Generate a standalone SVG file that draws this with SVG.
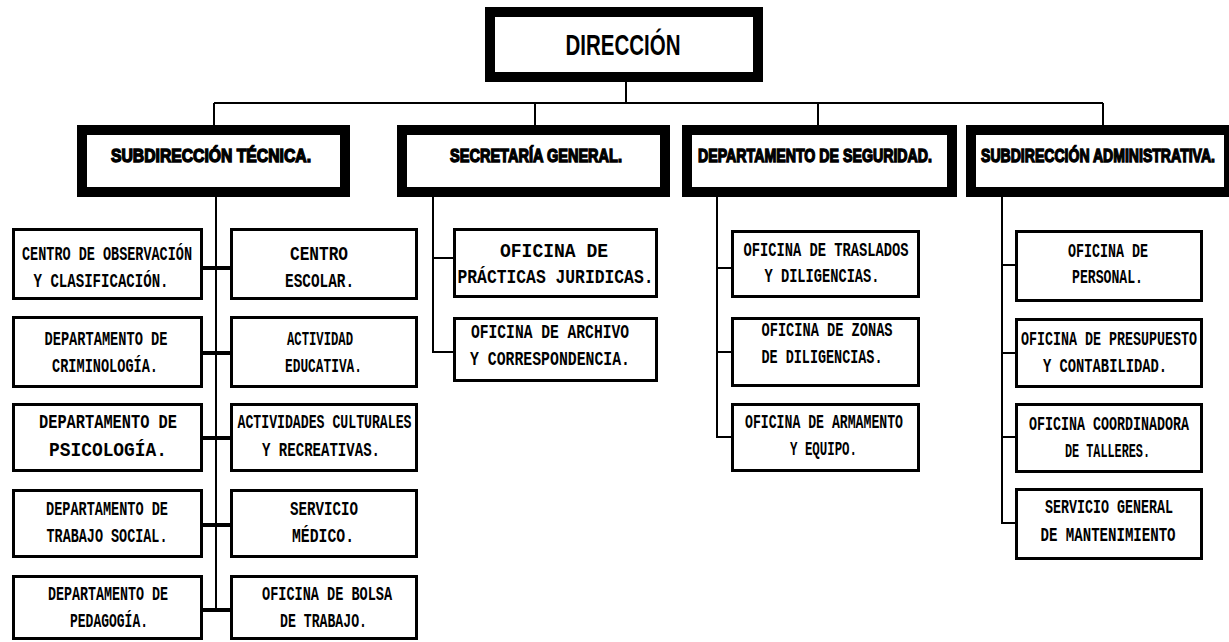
<svg xmlns="http://www.w3.org/2000/svg" width="1229" height="642" viewBox="0 0 1229 642">
<style>
.bg{fill:#fff}
.hbox{fill:#fff;stroke:#000;stroke-width:10}
.box{fill:#fff;stroke:#000;stroke-width:3}
.ln{fill:none;stroke:#000;stroke-width:2}
.br{fill:none;stroke:#000;stroke-width:4}
.t{font-family:"Liberation Mono","DejaVu Sans Mono",monospace;font-size:13.5px;font-weight:bold;text-anchor:middle;fill:#000}
.h{font-family:"Liberation Sans",Arial,sans-serif;font-size:12px;font-weight:bold;text-anchor:middle;fill:#000;stroke:#000;stroke-width:0.9}
.d{font-family:"Liberation Sans",Arial,sans-serif;font-size:19px;font-weight:bold;text-anchor:middle;fill:#000}
</style>
<rect class="bg" x="0" y="0" width="1229" height="642"/>
<g id="connectors">
<path class="ln" d="M626 82V103M214 103H1103M214 103V125M535 103V125M818 103V125M1103 103V125"/>
<path class="ln" d="M216 197V612M433 197V353M717 197V438M1002 197V524"/>
<path class="br" d="M203 268H230M203 353H230M203 438H230M203 525H230M203 610H230"/>
<path class="ln" d="M432 258H453M432 352H453M716 268H731M716 352H731M716 437H731M1001 265H1015M1001 353H1015M1001 437H1015M1001 523H1015"/>
</g>
<g id="direccion">
<rect class="hbox" x="490" y="12" width="268" height="65"/>
<text class="d" transform="translate(623 55) scale(1 1.55)" textLength="115" lengthAdjust="spacingAndGlyphs">DIRECCIÓN</text>
</g>
<g id="subdireccion-tecnica">
<rect class="hbox" x="82" y="130" width="263" height="62"/>
<text class="h" transform="translate(211 162) scale(1 1.55)" textLength="200" lengthAdjust="spacingAndGlyphs">SUBDIRECCIÓN  TÉCNICA.</text>
</g>
<g id="secretaria-general">
<rect class="hbox" x="402" y="130" width="263" height="62"/>
<text class="h" transform="translate(536 162) scale(1 1.55)" textLength="172" lengthAdjust="spacingAndGlyphs">SECRETARÍA GENERAL.</text>
</g>
<g id="departamento-seguridad">
<rect class="hbox" x="687" y="130" width="265" height="62"/>
<text class="h" transform="translate(815 162) scale(1 1.55)" textLength="234" lengthAdjust="spacingAndGlyphs">DEPARTAMENTO DE SEGURIDAD.</text>
</g>
<g id="subdireccion-administrativa">
<rect class="hbox" x="971" y="130" width="258" height="62"/>
<text class="h" transform="translate(1098 162) scale(1 1.55)" textLength="234" lengthAdjust="spacingAndGlyphs">SUBDIRECCIÓN ADMINISTRATIVA.</text>
</g>
<g id="centro-observacion">
<rect class="box" x="13.5" y="229.5" width="188" height="69"/>
<text class="t" transform="translate(107 260) scale(1 1.5)" textLength="170" lengthAdjust="spacingAndGlyphs">CENTRO DE OBSERVACIÓN</text>
<text class="t" transform="translate(101 287) scale(1 1.5)" textLength="135" lengthAdjust="spacingAndGlyphs">Y CLASIFICACIÓN.</text>
</g>
<g id="criminologia">
<rect class="box" x="13.5" y="317.5" width="188" height="69"/>
<text class="t" transform="translate(106 345) scale(1 1.5)" textLength="123" lengthAdjust="spacingAndGlyphs">DEPARTAMENTO DE</text>
<text class="t" transform="translate(105 372) scale(1 1.5)" textLength="106" lengthAdjust="spacingAndGlyphs">CRIMINOLOGÍA.</text>
</g>
<g id="psicologia">
<rect class="box" x="13.5" y="404.5" width="188" height="66"/>
<text class="t" transform="translate(108 428) scale(1 1.5)" textLength="138" lengthAdjust="spacingAndGlyphs">DEPARTAMENTO DE</text>
<text class="t" transform="translate(108 456) scale(1 1.5)" textLength="118" lengthAdjust="spacingAndGlyphs">PSICOLOGÍA.</text>
</g>
<g id="trabajo-social">
<rect class="box" x="13.5" y="490.5" width="188" height="66"/>
<text class="t" transform="translate(107 515) scale(1 1.5)" textLength="122" lengthAdjust="spacingAndGlyphs">DEPARTAMENTO DE</text>
<text class="t" transform="translate(107 542) scale(1 1.5)" textLength="121" lengthAdjust="spacingAndGlyphs">TRABAJO SOCIAL.</text>
</g>
<g id="pedagogia">
<rect class="box" x="13.5" y="576.5" width="188" height="62"/>
<text class="t" transform="translate(108 600) scale(1 1.5)" textLength="120" lengthAdjust="spacingAndGlyphs">DEPARTAMENTO DE</text>
<text class="t" transform="translate(109 627) scale(1 1.5)" textLength="78" lengthAdjust="spacingAndGlyphs">PEDAGOGÍA.</text>
</g>
<g id="centro-escolar">
<rect class="box" x="231.5" y="229.5" width="185" height="69"/>
<text class="t" transform="translate(319 260) scale(1 1.5)" textLength="58" lengthAdjust="spacingAndGlyphs">CENTRO</text>
<text class="t" transform="translate(319.5 287) scale(1 1.5)" textLength="69" lengthAdjust="spacingAndGlyphs">ESCOLAR.</text>
</g>
<g id="actividad-educativa">
<rect class="box" x="231.5" y="317.5" width="185" height="69"/>
<text class="t" transform="translate(320 345) scale(1 1.5)" textLength="66" lengthAdjust="spacingAndGlyphs">ACTIVIDAD</text>
<text class="t" transform="translate(323.5 372) scale(1 1.5)" textLength="77" lengthAdjust="spacingAndGlyphs">EDUCATIVA.</text>
</g>
<g id="actividades-culturales">
<rect class="box" x="231.5" y="404.5" width="185" height="66"/>
<text class="t" transform="translate(324.5 428) scale(1 1.5)" textLength="174" lengthAdjust="spacingAndGlyphs">ACTIVIDADES CULTURALES</text>
<text class="t" transform="translate(321 456) scale(1 1.5)" textLength="118" lengthAdjust="spacingAndGlyphs">Y RECREATIVAS.</text>
</g>
<g id="servicio-medico">
<rect class="box" x="231.5" y="490.5" width="185" height="66"/>
<text class="t" transform="translate(324 515) scale(1 1.5)" textLength="68" lengthAdjust="spacingAndGlyphs">SERVICIO</text>
<text class="t" transform="translate(323 542) scale(1 1.5)" textLength="62" lengthAdjust="spacingAndGlyphs">MÉDICO.</text>
</g>
<g id="bolsa-trabajo">
<rect class="box" x="231.5" y="576.5" width="185" height="62"/>
<text class="t" transform="translate(327 600) scale(1 1.5)" textLength="130" lengthAdjust="spacingAndGlyphs">OFICINA DE BOLSA</text>
<text class="t" transform="translate(323.5 627) scale(1 1.5)" textLength="87" lengthAdjust="spacingAndGlyphs">DE TRABAJO.</text>
</g>
<g id="practicas-juridicas">
<rect class="box" x="454.5" y="229.5" width="202" height="67"/>
<text class="t" transform="translate(554 257) scale(1 1.5)" textLength="108" lengthAdjust="spacingAndGlyphs">OFICINA DE</text>
<text class="t" transform="translate(555.5 283) scale(1 1.5)" textLength="196" lengthAdjust="spacingAndGlyphs">PRÁCTICAS JURIDICAS.</text>
</g>
<g id="archivo">
<rect class="box" x="454.5" y="318.5" width="202" height="62"/>
<text class="t" transform="translate(550 338) scale(1 1.5)" textLength="158" lengthAdjust="spacingAndGlyphs">OFICINA DE ARCHIVO</text>
<text class="t" transform="translate(550 365) scale(1 1.5)" textLength="160" lengthAdjust="spacingAndGlyphs">Y CORRESPONDENCIA.</text>
</g>
<g id="traslados">
<rect class="box" x="732.5" y="231.5" width="186" height="65"/>
<text class="t" transform="translate(826 256) scale(1 1.5)" textLength="165" lengthAdjust="spacingAndGlyphs">OFICINA DE TRASLADOS</text>
<text class="t" transform="translate(822 282) scale(1 1.5)" textLength="115" lengthAdjust="spacingAndGlyphs">Y DILIGENCIAS.</text>
</g>
<g id="zonas">
<rect class="box" x="732.5" y="318.5" width="186" height="67"/>
<text class="t" transform="translate(827 336) scale(1 1.5)" textLength="131" lengthAdjust="spacingAndGlyphs">OFICINA DE ZONAS</text>
<text class="t" transform="translate(822 363) scale(1 1.5)" textLength="121" lengthAdjust="spacingAndGlyphs">DE DILIGENCIAS.</text>
</g>
<g id="armamento">
<rect class="box" x="732.5" y="404.5" width="186" height="66"/>
<text class="t" transform="translate(824 428) scale(1 1.5)" textLength="158" lengthAdjust="spacingAndGlyphs">OFICINA DE ARMAMENTO</text>
<text class="t" transform="translate(823.5 455) scale(1 1.5)" textLength="67" lengthAdjust="spacingAndGlyphs">Y EQUIPO.</text>
</g>
<g id="personal">
<rect class="box" x="1016.5" y="231.5" width="185" height="69"/>
<text class="t" transform="translate(1108 257) scale(1 1.5)" textLength="80" lengthAdjust="spacingAndGlyphs">OFICINA DE</text>
<text class="t" transform="translate(1107.5 283) scale(1 1.5)" textLength="71" lengthAdjust="spacingAndGlyphs">PERSONAL.</text>
</g>
<g id="presupuesto">
<rect class="box" x="1016.5" y="319.5" width="185" height="67"/>
<text class="t" transform="translate(1109 345) scale(1 1.5)" textLength="176" lengthAdjust="spacingAndGlyphs">OFICINA DE PRESUPUESTO</text>
<text class="t" transform="translate(1105 372) scale(1 1.5)" textLength="124" lengthAdjust="spacingAndGlyphs">Y CONTABILIDAD.</text>
</g>
<g id="talleres">
<rect class="box" x="1016.5" y="404.5" width="185" height="67"/>
<text class="t" transform="translate(1109 430) scale(1 1.5)" textLength="160" lengthAdjust="spacingAndGlyphs">OFICINA COORDINADORA</text>
<text class="t" transform="translate(1107.5 457) scale(1 1.5)" textLength="85" lengthAdjust="spacingAndGlyphs">DE TALLERES.</text>
</g>
<g id="mantenimiento">
<rect class="box" x="1016.5" y="489.5" width="185" height="69"/>
<text class="t" transform="translate(1109 513) scale(1 1.5)" textLength="128" lengthAdjust="spacingAndGlyphs">SERVICIO GENERAL</text>
<text class="t" transform="translate(1108 541) scale(1 1.5)" textLength="135" lengthAdjust="spacingAndGlyphs">DE MANTENIMIENTO</text>
</g>
</svg>
